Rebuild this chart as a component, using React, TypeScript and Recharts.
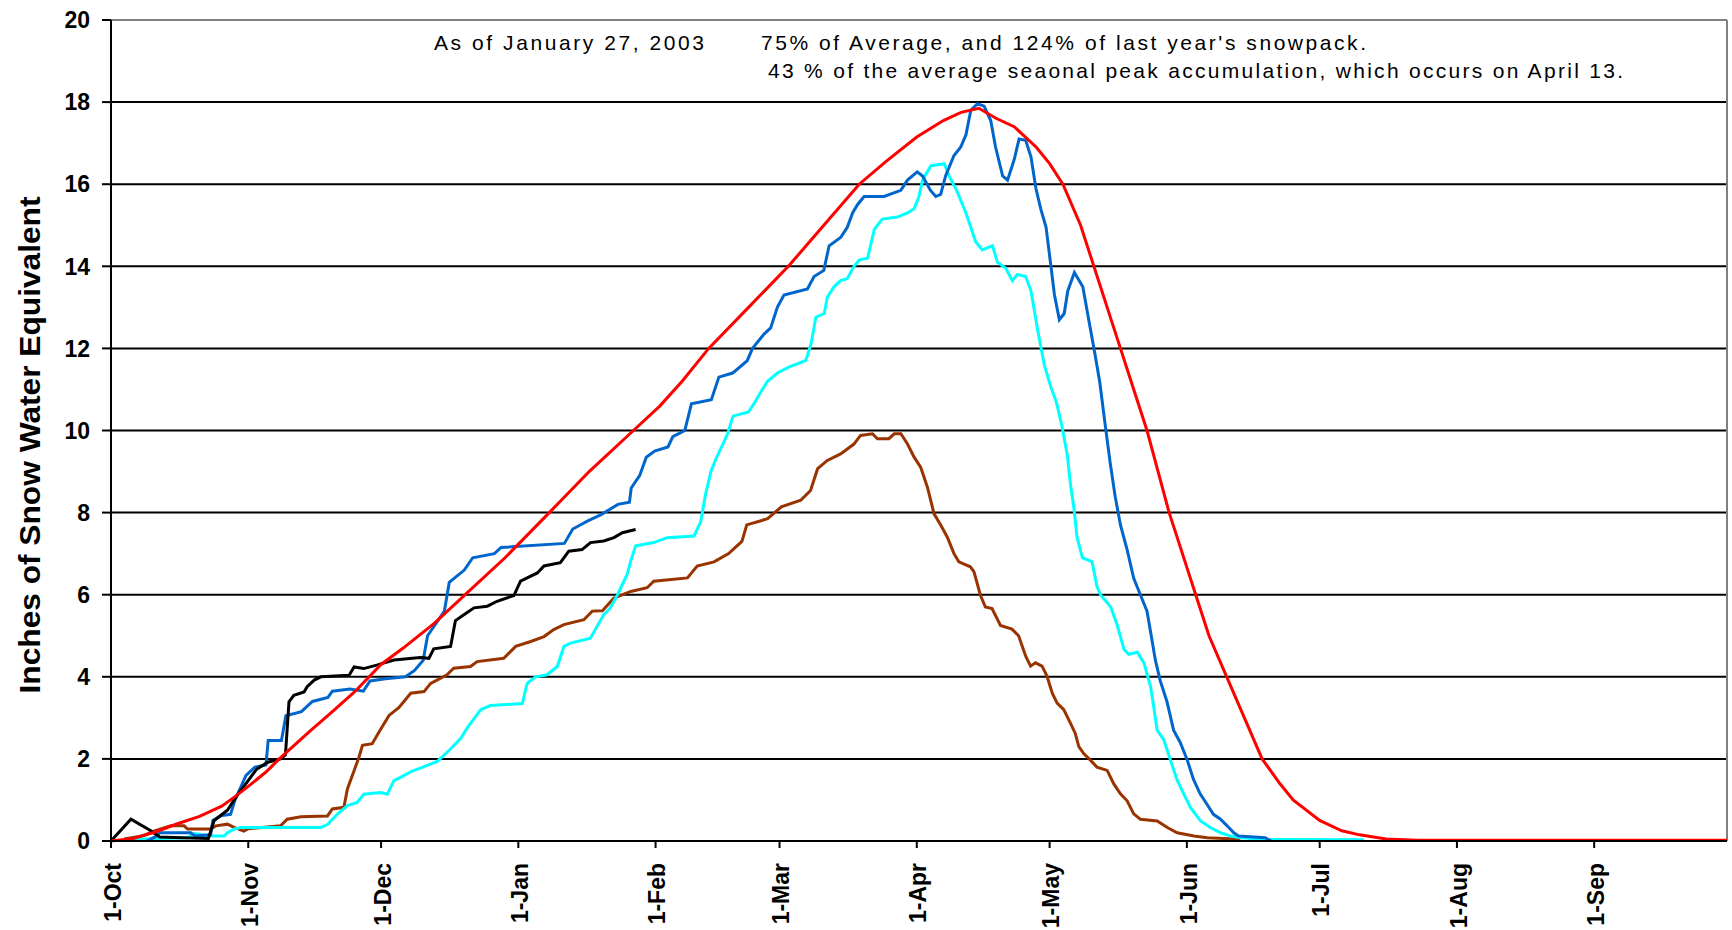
import React from "react";
import { LineChart, Line, XAxis, YAxis, CartesianGrid, ReferenceLine, Label } from "recharts";

// day of water year (0 = 1-Oct) and inches of SWE
const monthDays = [0, 31, 61, 92, 123, 151, 182, 212, 243, 273, 304, 335];
const monthLabels = ["1-Oct", "1-Nov", "1-Dec", "1-Jan", "1-Feb", "1-Mar", "1-Apr", "1-May", "1-Jun", "1-Jul", "1-Aug", "1-Sep"];
const yTicks = [0, 2, 4, 6, 8, 10, 12, 14, 16, 18, 20];

// average
const averageSwe: [number, number][] = [
  [0, 0], [5, 0.06], [10, 0.22], [15, 0.42], [20, 0.6], [25, 0.85], [28, 1.08], [31, 1.33], [35, 1.68], [38, 2.0],
  [45, 2.68], [50, 3.15], [55, 3.63], [61, 4.3], [66, 4.7], [73, 5.3], [80, 6.0], [89, 6.9], [99, 8.0], [108, 9.0],
  [118, 10.0], [124, 10.6], [129, 11.2], [135, 12.0], [144, 13.0], [153, 14.0], [161, 15.0], [169, 16.0], [175, 16.55],
  [182, 17.15], [188, 17.55], [192, 17.75], [196, 17.85], [200, 17.6], [204, 17.4], [209, 16.9], [212, 16.5], [215, 16.0],
  [219, 15.0], [222, 14.0], [225, 13.0], [228, 12.0], [231, 11.0], [234, 10.0], [236.5, 9.0], [239, 8.0], [242, 7.0],
  [245, 6.0], [248, 5.0], [252, 4.0], [256, 3.0], [260, 2.0], [264, 1.4], [267, 1.0], [273, 0.5], [278, 0.25],
  [282, 0.15], [288, 0.05], [295, 0.02], [365, 0.02],
];

// last year
const lastYearSwe: [number, number][] = [
  [8, 0], [10, 0.1], [11, 0.2], [18, 0.2], [19, 0.12], [22.5, 0.15], [23, 0.5], [25, 0.62], [27, 0.65], [28, 1.0],
  [30.5, 1.6], [32.5, 1.8], [35, 1.85], [35.5, 2.45], [38.5, 2.45], [39.5, 3.05], [43, 3.15], [45.5, 3.4], [49, 3.5],
  [50, 3.65], [54, 3.7], [57, 3.65], [58.5, 3.9], [62, 3.95], [66.5, 4.0], [68.5, 4.15], [70.5, 4.4], [71.5, 5.0],
  [75.3, 5.6], [76.4, 6.3], [79.8, 6.6], [81.7, 6.9], [86.6, 7.0], [88.1, 7.15], [102.4, 7.25], [104.3, 7.6],
  [107.7, 7.8], [110.7, 7.95], [114.5, 8.2], [117.1, 8.25], [117.5, 8.6], [119.4, 8.9], [120.9, 9.35], [122.8, 9.5],
  [125.8, 9.6], [126.9, 9.85], [129.6, 10.0], [131.1, 10.65], [135.6, 10.75], [137.3, 11.3], [140.4, 11.4],
  [143.7, 11.7], [144.9, 12.0], [147.5, 12.35], [149, 12.5], [150.5, 13.0], [152, 13.3], [157.3, 13.45], [158.8, 13.75],
  [161, 13.9], [162.2, 14.5], [164.8, 14.7], [166.3, 14.95], [167.5, 15.3], [168.6, 15.5], [170.1, 15.7], [174.6, 15.7],
  [178.4, 15.85], [179.9, 16.1], [182.1, 16.3], [183.3, 16.2], [185.1, 15.85], [186.3, 15.7], [187.4, 15.75],
  [188.5, 16.2], [190.4, 16.7], [191.9, 16.9], [193.1, 17.2], [194.2, 17.8], [195.7, 17.96], [197.2, 17.9],
  [198.7, 17.55], [199.8, 16.9], [201.4, 16.2], [202.5, 16.1], [204, 16.6], [205.1, 17.1], [206.6, 17.07],
  [207.8, 16.66], [208.9, 15.9], [210, 15.4], [211.2, 14.95], [212.3, 14.0], [213.1, 13.3], [214.2, 12.7],
  [215.3, 12.85], [216.1, 13.4], [217.6, 13.85], [219.5, 13.5], [221, 12.6], [222.1, 11.95], [223.3, 11.2],
  [224.6, 10.1], [225.7, 9.2], [226.8, 8.4], [228, 7.7], [229.5, 7.1], [231, 6.4], [232.5, 6.0], [234, 5.6],
  [234.8, 5.1], [235.9, 4.4], [237, 3.9], [238.5, 3.4], [240, 2.7], [241.5, 2.4], [243, 2.0], [244.5, 1.5],
  [246, 1.15], [247.5, 0.9], [249, 0.65], [250.6, 0.53], [252.1, 0.37], [253.6, 0.2], [254.7, 0.12], [260.7, 0.08],
  [262, 0],
];

// wet year
const wetYearSwe: [number, number][] = [
  [5, 0.04], [17.3, 0.08], [18.8, 0.18], [22.6, 0.12], [25.6, 0.12], [26.3, 0.2], [27.8, 0.29], [29.3, 0.33],
  [47.4, 0.33], [48.9, 0.4], [51.1, 0.65], [53.4, 0.86], [55.6, 0.94], [57.1, 1.14], [60.9, 1.18], [62.4, 1.14],
  [63.9, 1.47], [65.4, 1.55], [68, 1.7], [70, 1.78], [73.7, 1.94], [76.7, 2.24], [79, 2.5], [80.5, 2.76], [83.5, 3.2],
  [85.7, 3.3], [92.9, 3.35], [94, 3.84], [95.9, 4.0], [98.5, 4.05], [100.8, 4.25], [102.3, 4.74], [103.8, 4.82],
  [108.3, 4.94], [109.8, 5.23], [111.3, 5.51], [112.8, 5.68], [114.4, 6.0], [116.6, 6.5], [117.4, 6.82], [118.5, 7.19],
  [122.6, 7.27], [125.6, 7.39], [131.7, 7.43], [133.2, 7.78], [134.3, 8.45], [135.5, 9.0], [136.6, 9.3], [139.2, 9.9],
  [140.5, 10.35], [144, 10.45], [145.6, 10.72], [147.1, 11.0], [148.3, 11.2], [150.5, 11.4], [153.2, 11.55],
  [156.9, 11.7], [158.1, 12.1], [159.2, 12.76], [161.1, 12.85], [161.8, 13.25], [163.3, 13.5], [164.8, 13.65],
  [166.3, 13.7], [167.8, 14.0], [169, 14.15], [170.9, 14.2], [172.4, 14.9], [174.2, 15.15], [177.6, 15.2],
  [179.9, 15.3], [181.4, 15.4], [182.5, 15.7], [183.3, 16.1], [185.2, 16.45], [188.2, 16.5], [189.3, 16.2],
  [191.2, 15.8], [193.1, 15.3], [194.2, 14.95], [195.3, 14.6], [196.8, 14.4], [197.9, 14.45], [199.1, 14.5],
  [200.2, 14.1], [202.1, 13.95], [203.6, 13.65], [204.7, 13.8], [206.6, 13.75], [207.8, 13.4], [209.3, 12.45],
  [210.8, 11.6], [212.3, 11.05], [213.5, 10.7], [214.8, 10.1], [216, 9.4], [216.7, 8.7], [217.5, 8.1], [218.2, 7.4],
  [219.4, 6.9], [221.6, 6.8], [222.7, 6.2], [223.5, 6.0], [225.8, 5.7], [227.3, 5.25], [228.8, 4.67], [229.9, 4.55],
  [231.8, 4.6], [233.3, 4.34], [234.8, 3.77], [235.5, 3.28], [236.3, 2.7], [237.8, 2.46], [239.3, 1.97],
  [240.8, 1.48], [242.3, 1.15], [243.8, 0.82], [246.1, 0.49], [248.3, 0.33], [250.6, 0.2], [252.9, 0.12],
  [255.1, 0.08], [260, 0.04], [283, 0.03],
];

// dry year
const dryYearSwe: [number, number][] = [
  [3, 0.05], [7, 0.12], [10, 0.25], [13.5, 0.37], [16.5, 0.37], [17.3, 0.29], [22.6, 0.29], [23.7, 0.37], [26.3, 0.41],
  [27.8, 0.33], [30, 0.24], [31, 0.3], [38.3, 0.37], [39.8, 0.53], [42.9, 0.59], [48.9, 0.61], [50, 0.78], [52.6, 0.82],
  [53.4, 1.27], [54.9, 1.71], [56, 2.04], [56.8, 2.33], [59, 2.37], [60.5, 2.65], [62.8, 3.06], [65, 3.25], [67.7, 3.6],
  [70.7, 3.64], [72.2, 3.84], [75.9, 4.05], [77.4, 4.21], [81.2, 4.25], [82.7, 4.37], [88.7, 4.45], [91.4, 4.74],
  [94.8, 4.86], [97.8, 4.98], [100, 5.15], [102.3, 5.27], [106.8, 5.39], [108.7, 5.6], [111, 5.61], [113.6, 5.92],
  [117.4, 6.08], [121.1, 6.17], [122.6, 6.33], [130.2, 6.41], [132.4, 6.7], [136.2, 6.8], [139.5, 7.0], [142.5, 7.3],
  [143.6, 7.7], [148.3, 7.85], [151.4, 8.14], [155.8, 8.3], [158, 8.54], [159.6, 9.07], [161.8, 9.27], [164.8, 9.43],
  [167.8, 9.67], [169.3, 9.88], [172, 9.92], [173.1, 9.8], [175.7, 9.8], [176.9, 9.92], [178.4, 9.92], [179.9, 9.67],
  [181.4, 9.35], [182.9, 9.1], [184.4, 8.62], [185.9, 7.97], [187.4, 7.7], [188.9, 7.4], [190.4, 7.0], [191.5, 6.8],
  [194.1, 6.68], [194.9, 6.56], [196.4, 5.98], [197.5, 5.7], [199, 5.66], [200.9, 5.25], [203.5, 5.16], [205, 5.0],
  [206.6, 4.5], [207.7, 4.26], [208.8, 4.34], [210.3, 4.26], [211.4, 4.02], [212.6, 3.6], [213.7, 3.36], [215.2, 3.2],
  [216.7, 2.87], [217.8, 2.62], [218.6, 2.3], [219.7, 2.13], [221.2, 1.97], [222.7, 1.8], [225, 1.72], [226.5, 1.39],
  [228, 1.15], [229.5, 0.98], [231, 0.66], [232.5, 0.53], [236.3, 0.49], [238.6, 0.33], [240.8, 0.2], [244.6, 0.12],
  [247.6, 0.08], [255.1, 0.04],
];

// current year, through January 27
const currentSwe: [number, number][] = [
  [0, 0], [4.5, 0.53], [9, 0.25], [11, 0.1], [16, 0.08], [22, 0.06], [23.3, 0.5], [26.3, 0.75], [28.3, 1.08],
  [30.9, 1.46], [32.9, 1.75], [35.4, 1.92], [38.3, 2.0], [39.4, 2.1], [40.2, 3.39], [41.3, 3.55], [43.6, 3.63],
  [44.3, 3.76], [45.9, 3.92], [47.4, 4.0], [53.8, 4.04], [54.9, 4.24], [57.1, 4.2], [60.2, 4.29], [63.9, 4.41],
  [69.9, 4.47], [71.8, 4.45], [72.9, 4.68], [76.7, 4.74], [77.8, 5.37], [79.7, 5.51], [82, 5.68], [85, 5.72],
  [87.2, 5.84], [91, 5.98], [92.5, 6.33], [94, 6.41], [96.3, 6.53], [97.8, 6.7], [101.5, 6.78], [103.4, 7.06],
  [106.4, 7.1], [108.3, 7.27], [111.3, 7.31], [113.6, 7.39], [115.5, 7.51], [118.5, 7.59],
];

const toRows = (pts: [number, number][]) => pts.map(([day, v]) => ({ day, v }));

const FONT = "'Liberation Sans', Arial, sans-serif";

const XTick = (props: any) => {
  const { x, y, payload } = props;
  const i = monthDays.indexOf(payload.value);
  return (
    <text
      x={x}
      y={y}
      transform={`rotate(-90 ${x} ${y})`}
      textAnchor="end"
      dy="0.42em"
      fontFamily={FONT}
      fontWeight="bold"
      fontSize={23}
      fill="#000"
    >
      {i >= 0 ? monthLabels[i] : ""}
    </text>
  );
};

const YTick = (props: any) => {
  const { x, y, payload } = props;
  return (
    <text x={x} y={y} dy="0.36em" textAnchor="end" fontFamily={FONT} fontWeight="bold" fontSize={23} fill="#000">
      {payload.value}
    </text>
  );
};

const YTitle = () => (
  <text
    x={30}
    y={445}
    transform="rotate(-90 30 445)"
    textAnchor="middle"
    dy="0.36em"
    fontFamily={FONT}
    fontWeight="bold"
    fontSize={29}
    textLength={497}
    lengthAdjust="spacingAndGlyphs"
    fill="#000"
  >
    Inches of Snow Water Equivalent
  </text>
);

export default function App() {
  return (
    <div style={{ position: "absolute", left: 0, top: 0, width: 1732, height: 930, background: "#fff" }}>
      <LineChart width={1732} height={930} margin={{ top: 20, right: 5, bottom: 9, left: 11 }}>
        <CartesianGrid vertical={false} stroke="#000" strokeWidth={2} />
        <XAxis
          dataKey="day"
          type="number"
          domain={[0, 365]}
          ticks={monthDays}
          interval={0}
          height={80}
          tickSize={7}
          tickMargin={15}
          tick={<XTick />}
          axisLine={{ stroke: "#000", strokeWidth: 2 }}
          tickLine={{ stroke: "#000", strokeWidth: 2 }}
          allowDataOverflow
        />
        <YAxis
          type="number"
          domain={[0, 20]}
          ticks={yTicks}
          interval={0}
          width={100}
          tickSize={9}
          tickMargin={12}
          tick={<YTick />}
          axisLine={{ stroke: "#000", strokeWidth: 2 }}
          tickLine={{ stroke: "#000", strokeWidth: 2 }}
          label={<Label content={<YTitle />} />}
        />
        <ReferenceLine y={20} stroke="#808080" strokeWidth={2} />
        <ReferenceLine x={365} stroke="#808080" strokeWidth={2} />
        <Line data={toRows(dryYearSwe)} dataKey="v" stroke="#993300" strokeWidth={3} dot={false} isAnimationActive={false} />
        <Line data={toRows(wetYearSwe)} dataKey="v" stroke="#00FFFF" strokeWidth={3} dot={false} isAnimationActive={false} />
        <Line data={toRows(lastYearSwe)} dataKey="v" stroke="#0066CC" strokeWidth={3} dot={false} isAnimationActive={false} />
        <Line data={toRows(currentSwe)} dataKey="v" stroke="#000000" strokeWidth={3} dot={false} isAnimationActive={false} />
        <Line data={toRows(averageSwe)} dataKey="v" stroke="#FF0000" strokeWidth={3} dot={false} isAnimationActive={false} />
      </LineChart>
      <svg
        width={1732}
        height={930}
        style={{ position: "absolute", left: 0, top: 0, pointerEvents: "none" }}
      >
        <g fontFamily={FONT} fontSize={21} fill="#000">
          <text x={434} y={50} textLength={270} lengthAdjust="spacing">
            As of  January 27, 2003
          </text>
          <text x={761} y={50} textLength={605} lengthAdjust="spacing">
            75% of Average, and  124% of last year's snowpack.
          </text>
          <text x={768} y={78} textLength={855} lengthAdjust="spacing">
            43 % of the average seaonal peak accumulation, which occurs on April 13.
          </text>
        </g>
      </svg>
    </div>
  );
}
